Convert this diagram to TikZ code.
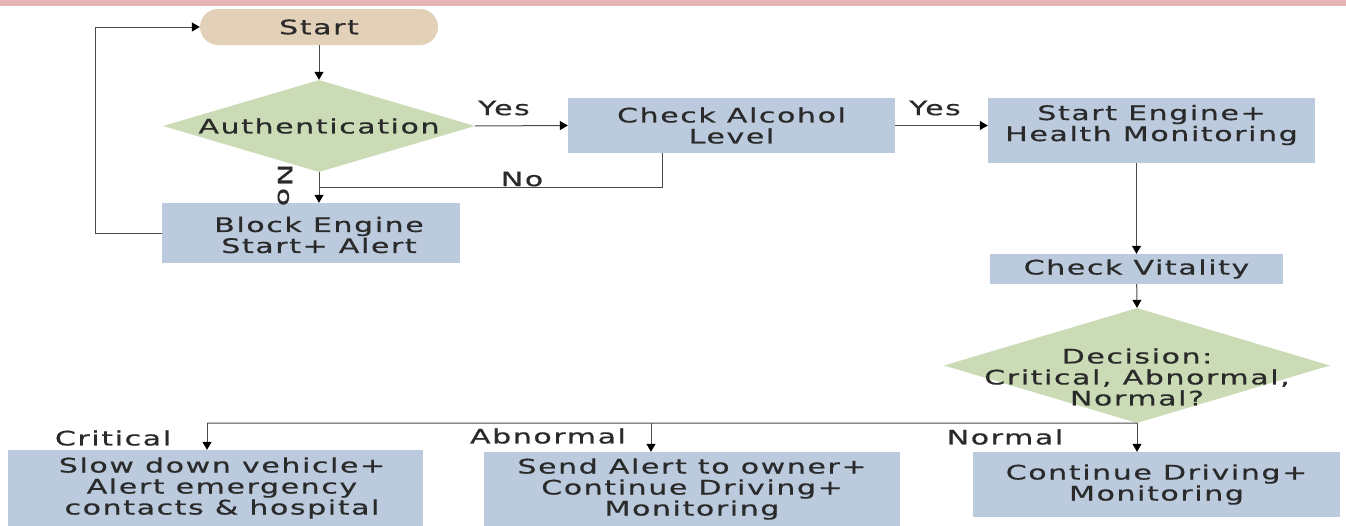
\documentclass[tikz,border=0pt]{standalone}
\usepackage{fontspec}
\usetikzlibrary{shapes.geometric,arrows.meta}
\newfontfamily\dfont{DejaVu Sans}[FakeStretch=1.5,LetterSpace=8,FakeBold=0.6]
\definecolor{bandc}{HTML}{E6B4B6}
\definecolor{startc}{HTML}{E3D0B8}
\definecolor{diac}{HTML}{CADBB6}
\definecolor{boxc}{HTML}{BBCADD}
\definecolor{txtc}{HTML}{2A2A2A}
\definecolor{linec}{HTML}{4A4A4A}
\begin{document}
\begin{tikzpicture}[x=1pt,y=-1pt,
  every node/.style={font={\dfont\fontsize{20}{21}\selectfont}, text=txtc},
  pill/.style={rectangle, rounded corners=18pt, fill=startc, minimum width=238pt, minimum height=36pt, inner sep=0pt},
  dia/.style={diamond, fill=diac, inner sep=0pt},
  box/.style={rectangle, fill=boxc, inner sep=0pt, align=center},
  lbl/.style={inner sep=0pt, align=center},
  line/.style={draw=linec, line width=1pt},
  arr/.style={line, -{Triangle[length=8pt,width=9pt,color=black]}}]
\useasboundingbox (0,0) rectangle (1346,525);
\fill[bandc] (0,0) rectangle (1346,5.5);

\node[pill] (start) at (319,27) {Start};
\node[dia, minimum width=312pt, minimum height=92pt] (auth) at (319,126) {};
\node[lbl] (authtxt) at (auth.center) {Authentication};
\node[box, minimum width=327pt, minimum height=55pt] (alc) at (731.5,125.5) {Check Alcohol\\Level};
\node[box, minimum width=327pt, minimum height=65pt] (eng) at (1151.5,130.5) {};
\node[lbl] (engtxt) at (1151.5,125) {Start Engine+\\Health Monitoring};
\node[box, minimum width=298pt, minimum height=60pt] (block) at (311,233) {};
\node[lbl] (blocktxt) at (319,235) {Block Engine\\Start+ Alert};
\node[box, minimum width=293pt, minimum height=30pt] (vit) at (1136.5,269) {Check Vitality};
\node[dia, minimum width=386pt, minimum height=115pt] (dec) at (1137,365.5) {};
\node[lbl] (dectxt) at (1137,377) {Decision:\\Critical, Abnormal,\\Normal?};
\node[box, minimum width=415pt, minimum height=76pt] (b1) at (215.5,488) {};
\node[lbl] (b1txt) at (222,488) {Slow down vehicle+\\Alert emergency\\contacts \& hospital};
\node[box, minimum width=416pt, minimum height=74pt] (b2) at (692,489) {Send Alert to owner+\\Continue Driving+\\Monitoring};
\node[box, minimum width=367pt, minimum height=65pt] (b3) at (1156.5,484.5) {Continue Driving+\\Monitoring};

% labels
\node[lbl] (yes1) at (504,108) {Yes};
\node[lbl] (yes2) at (935,108) {Yes};
\node[lbl] (no1) at (522,179) {No};
\node[lbl, rotate=-90] (no2) at (285,185) {No};
\node[lbl] (crit) at (113,438) {Critical};
\node[lbl] (abn) at (548,436) {Abnormal};
\node[lbl] (nor) at (1005,437) {Normal};

% connectors
\coordinate (nj) at (319,187);
\coordinate (cj) at (207,423);
\coordinate (aj) at (651,423);
\draw[arr] (start) -- (auth.north);
\draw[arr] (auth.east) -- (alc.west);
\draw[arr] (alc.east) -- (alc.east -| eng.west);
\draw[arr] (auth.south) -- (auth.south |- block.north);
\draw[line] ([xshift=-69.5pt]alc.south) |- (nj);
\draw[arr] (block.west) -- ++(-66,0) |- (start.west);
\draw[arr] (vit.north |- eng.south) -- (vit.north);
\draw[arr] (vit) -- (dec.north);
\draw[line] (dec.south) -- (cj);
\draw[arr] (cj) -- (cj |- b1.north);
\draw[arr] (aj) -- (aj |- b2.north);
\draw[arr] (dec.south) -- (dec.south |- b3.north);
\end{tikzpicture}
\end{document}
